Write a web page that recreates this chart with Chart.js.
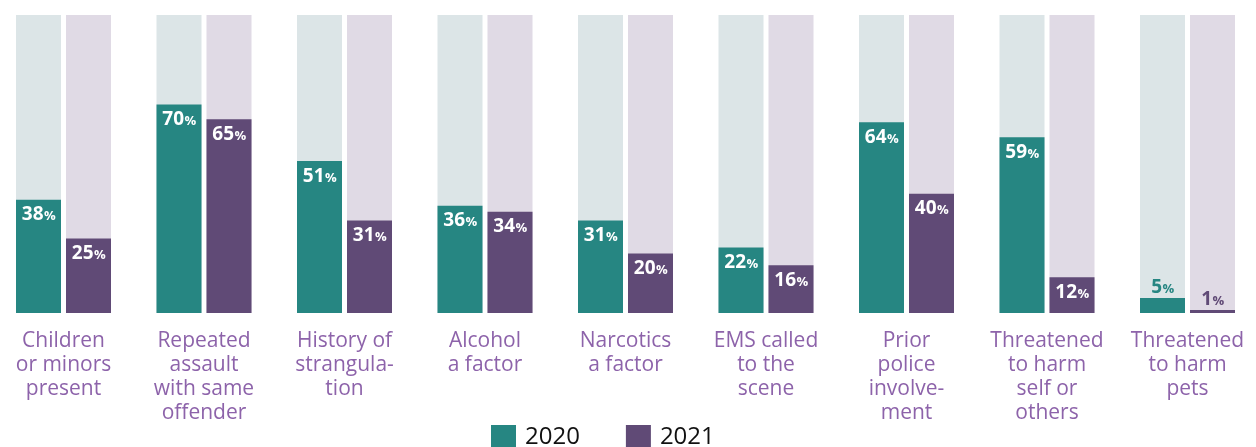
<!DOCTYPE html>
<html>
<head>
<meta charset="utf-8">
<script src="https://cdn.jsdelivr.net/npm/chart.js"></script>
<style>
html, body { margin: 0; padding: 0; background: #fff; overflow: hidden; }
#contenedor { width: 1256px; height: 447px; position: relative; }
</style>
</head>
<body>
<div id="contenedor"><canvas id="grafico"></canvas></div>
<script>
// Datos del grafico
var categorias = [
    ['Children', 'or minors', 'present'],
    ['Repeated', 'assault', 'with same', 'offender'],
    ['History of', 'strangula-', 'tion'],
    ['Alcohol', 'a factor'],
    ['Narcotics', 'a factor'],
    ['EMS called', 'to the', 'scene'],
    ['Prior', 'police', 'involve-', 'ment'],
    ['Threatened', 'to harm', 'self or', 'others'],
    ['Threatened', 'to harm', 'pets']
];
var anios = ['2020', '2021'];
var valores2020 = [38, 70, 51, 36, 31, 22, 64, 59, 5];
var valores2021 = [25, 65, 31, 34, 20, 16, 40, 12, 1];
var total = [100, 100, 100, 100, 100, 100, 100, 100, 100]; // barra de fondo (100%)

var colorTeal = '#268682';
var colorMorado = '#604a76';
var fondoTeal = '#dce5e7';
var fondoMorado = '#e0dae5';
var colorEtiquetas = '#8d63aa';

Chart.defaults.font.family = '"Open Sans", sans-serif';

// Etiquetas de porcentaje sobre cada barra
var etiquetasPlugin = {
    id: 'etiquetas',
    afterDatasetsDraw: function (chart) {
        var ctx = chart.ctx;
        for (var d = 0; d < 2; d++) {
            var meta = chart.getDatasetMeta(d);
            var ds = chart.data.datasets[d];
            meta.data.forEach(function (barra, i) {
                var v = ds.data[i];
                var dentro = v >= 10;
                var base = dentro ? barra.y + 20.5 : barra.y - 5.5;
                var num = String(v);
                ctx.save();
                ctx.fillStyle = dentro ? '#fff' : ds.backgroundColor;
                ctx.textAlign = 'left';
                ctx.textBaseline = 'alphabetic';
                ctx.font = 'bold 19px "Open Sans"';
                var w1 = ctx.measureText(num).width;
                ctx.font = 'bold 13px "Open Sans"';
                var w2 = ctx.measureText('%').width;
                var x0 = barra.x - (w1 + w2) / 2;
                ctx.font = 'bold 19px "Open Sans"';
                ctx.fillText(num, x0, base);
                ctx.font = 'bold 13px "Open Sans"';
                ctx.fillText('%', x0 + w1 + 0.5, base);
                ctx.restore();
            });
        }
    }
};

// Leyenda dibujada abajo
var leyendaPlugin = {
    id: 'leyenda',
    afterDraw: function (chart) {
        var ctx = chart.ctx;
        var x = 491, yCaja = 425, lado = 25;
        ctx.save();
        ctx.font = '24px "Open Sans"';
        ctx.textBaseline = 'middle';
        ctx.textAlign = 'left';
        for (var d = 0; d < 2; d++) {
            var ds = chart.data.datasets[d];
            ctx.fillStyle = ds.backgroundColor;
            ctx.fillRect(x, yCaja, lado, lado);
            ctx.fillStyle = '#111';
            ctx.fillText(ds.label, x + lado + 9, yCaja + lado / 2);
            x += lado + 9 + ctx.measureText(ds.label).width + 46;
        }
        ctx.restore();
    }
};

var ctx = document.getElementById('grafico');
var grafico = new Chart(ctx, {
    type: 'bar',
    data: {
        labels: categorias,
        datasets: [
            { label: anios[0], data: valores2020, backgroundColor: colorTeal, stack: 'a' },
            { label: anios[1], data: valores2021, backgroundColor: colorMorado, stack: 'b' },
            { label: 'fondo2020', data: total, backgroundColor: fondoTeal, stack: 'a' },
            { label: 'fondo2021', data: total, backgroundColor: fondoMorado, stack: 'b' }
        ]
    },
    options: {
        responsive: true,
        maintainAspectRatio: false,
        animation: false,
        events: [],
        clip: false,
        categoryPercentage: 100 / 140.5,
        barPercentage: 0.9,
        layout: { padding: { left: 63.5, right: 68.5, top: 15, bottom: 6 } },
        plugins: {
            legend: { display: false },
            tooltip: { enabled: false }
        },
        scales: {
            x: {
                stacked: true,
                offset: false,
                grid: { display: false, drawTicks: false },
                border: { display: false },
                ticks: {
                    color: colorEtiquetas,
                    font: { size: 21, lineHeight: 24 / 21 },
                    padding: 16,
                    maxRotation: 0,
                    autoSkip: false
                },
                afterFit: function (escala) {
                    // que las etiquetas no empujen el area del grafico
                    escala.paddingLeft = 0;
                    escala.paddingRight = 0;
                }
            },
            y: {
                stacked: false,
                display: false,
                min: 0,
                max: 100
            }
        }
    },
    plugins: [etiquetasPlugin, leyendaPlugin]
});
</script>
</body>
</html>
